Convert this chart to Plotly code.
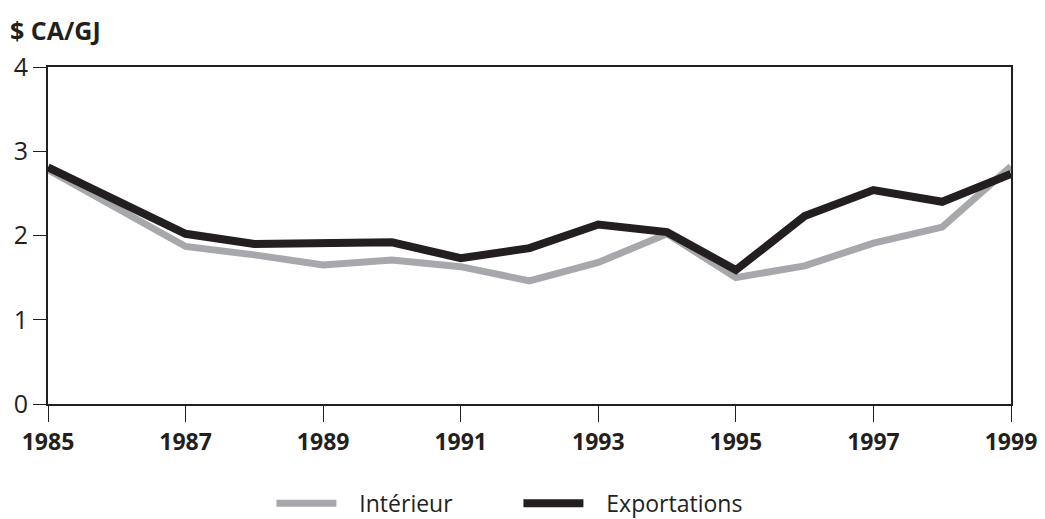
import plotly.graph_objects as go

years = list(range(1985, 2000))
interieur = [2.78, 2.33, 1.87, 1.77, 1.65, 1.71, 1.63, 1.46, 1.68, 2.02, 1.50, 1.64, 1.91, 2.10, 2.82]
exportations = [2.81, 2.42, 2.02, 1.90, 1.90, 1.92, 1.73, 1.85, 2.13, 2.04, 1.59, 2.23, 2.54, 2.40, 2.73]
x_ticks = [1985, 1987, 1989, 1991, 1993, 1995, 1997, 1999]
y_ticks = [0, 1, 2, 3, 4]
series_names = ["Intérieur", "Exportations"]

GRAY = "#a7a8ab"
BLACK = "#231f20"

fig = go.Figure()
fig.add_trace(go.Scatter(x=years, y=interieur, mode="lines",
                         name="&nbsp;&nbsp;&nbsp;" + series_names[0],
                         line=dict(color=GRAY, width=7)))
fig.add_trace(go.Scatter(x=years, y=exportations, mode="lines",
                         name="&nbsp;&nbsp;&nbsp;" + series_names[1],
                         line=dict(color=BLACK, width=8)))

fig.update_layout(
    width=1037, height=511,
    margin=dict(l=40, r=34, t=59, b=115, autoexpand=False),
    plot_bgcolor="white", paper_bgcolor="white",
    font=dict(family="Open Sans", color=BLACK),
    showlegend=True,
    legend=dict(orientation="h", x=0.232, xanchor="left", y=-0.295, yanchor="middle",
                font=dict(size=23, family="Open Sans", color=BLACK),
                entrywidth=172, itemwidth=60, tracegroupgap=0),
)
fig.add_annotation(text="<b>$ CA/GJ</b>", xref="paper", yref="paper", x=-0.0415, y=1.11,
                   xanchor="left", yanchor="middle", showarrow=False,
                   font=dict(size=25, family="Open Sans", color=BLACK))

fig.update_xaxes(range=[1985, 1999], tickvals=x_ticks, ticktext=[str(v) for v in x_ticks],
                 showgrid=False, zeroline=False, showline=True, linecolor=BLACK, linewidth=2,
                 mirror=True, ticks="outside", ticklen=16, tickwidth=1, tickcolor=BLACK,
                 automargin=False,
                 tickfont=dict(size=23, family="Open Sans", color=BLACK, weight="bold"))
fig.update_yaxes(range=[0, 4], tickvals=y_ticks, showgrid=False, zeroline=False,
                 showline=True, linecolor=BLACK, linewidth=2, mirror=True,
                 ticks="outside", ticklen=13, tickwidth=1, tickcolor=BLACK,
                 automargin=False,
                 tickfont=dict(size=25, family="Open Sans", color=BLACK))

fig.write_html("out.html")
